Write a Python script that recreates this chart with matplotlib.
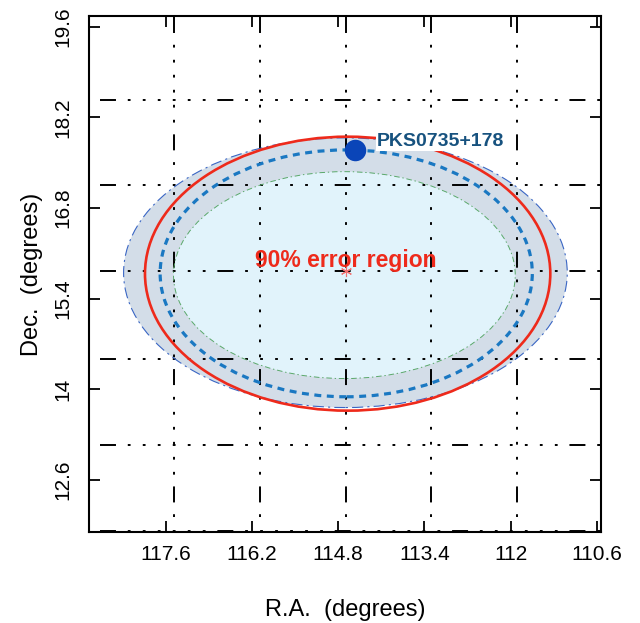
import matplotlib
matplotlib.use("Agg")
import matplotlib.pyplot as plt
from matplotlib.patches import Ellipse
import numpy as np

plt.rcParams['font.family'] = ['Liberation Sans', 'DejaVu Sans']
plt.rcParams['lines.scale_dashes'] = False

# ---- data ----
x_ticks = [117.6, 116.2, 114.8, 113.4, 112.0, 110.6]
x_tick_labels = ["117.6", "116.2", "114.8", "113.4", "112", "110.6"]
y_ticks = [12.6, 14.0, 15.4, 16.8, 18.2, 19.6]
y_tick_labels = ["12.6", "14", "15.4", "16.8", "18.2", "19.6"]
xlim = (118.84, 110.54)
ylim = (11.79, 19.77)

grid_ra = [117.47, 116.07, 114.68, 113.30, 111.90]
grid_dec = [18.47, 17.15, 15.82, 14.47, 13.14, 11.81]

center_ra, center_dec = 114.68, 15.82
# (center RA, center Dec, semi-axis RA, semi-axis Dec)
outer_region = (114.683, 15.80, 3.60, 2.083)
inner_region = (114.70, 15.763, 2.773, 1.598)
blue_contour = (114.67, 15.79, 3.02, 1.907)
red_contour = (114.647, 15.785, 3.289, 2.116)

source_name = "PKS0735+178"
source_ra, source_dec = 114.53, 17.70

# ---- figure ----
fig = plt.figure(figsize=(6.40, 6.23), dpi=100)
ax = fig.add_axes([0.1395, 0.1456, 0.7991, 0.8292])
ax.set_xlim(*xlim)
ax.set_ylim(*ylim)

def ell(params, **kw):
    cx, cy, a, b = params
    return Ellipse((cx, cy), 2 * a, 2 * b, **kw)

# filled regions
ax.add_patch(ell(outer_region, facecolor='#d3dde8', edgecolor='none', zorder=1))
ax.add_patch(ell(outer_region, facecolor='none', edgecolor='#3a66c4', lw=0.8,
                 linestyle=(0, (8, 3, 1.5, 3)), zorder=4))
ax.add_patch(ell(inner_region, facecolor='#e1f3fb', edgecolor='none', zorder=2))
ax.add_patch(ell(inner_region, facecolor='none', edgecolor='#5aa86a', lw=0.7,
                 linestyle=(0, (4, 2, 1, 2)), zorder=4))

# grid lines (coordinate grid)
grid_ls = (0, (11.5, 8.5, 2.0, 8.8, 2.0, 8.8, 2.0, 8.8, 2.0, 8.8, 2.0, 8.8, 2.0, 8.5))
for r in grid_ra:
    ax.plot([r, r], [19.75, 11.95], color='black', lw=1.4, linestyle=grid_ls,
            solid_capstyle='butt', dash_capstyle='butt', zorder=3)
for d in grid_dec:
    ax.plot([118.66, 110.55], [d, d], color='black', lw=1.4, linestyle=grid_ls,
            solid_capstyle='butt', dash_capstyle='butt', zorder=3)

# contours
ax.add_patch(ell(blue_contour, facecolor='none', edgecolor='#1a78c2', lw=2.3,
                 linestyle=(0, (5, 4)), zorder=5))
ax.add_patch(ell(red_contour, facecolor='none', edgecolor='#ee2a1b', lw=1.9, zorder=6))

# center marker
ax.plot([center_ra], [center_dec], marker=(6, 2, 0), color='#f07070', ms=8,
        mew=0.8, zorder=7)

# source
ax.plot([source_ra], [source_dec], 'o', color='#0a45b8', ms=15.5, mec='none', zorder=8)
ax.text(114.17, 17.752, source_name, color='#17527f', fontsize=14,
        fontweight='bold', ha='left', va='baseline', zorder=9,
        bbox=dict(facecolor='white', edgecolor='none', pad=0.5))

ax.text(114.68, 15.894, "90% error region", color='#ee2a1b', fontsize=16.5,
        fontweight='bold', ha='center', va='baseline', zorder=9)

# ticks
ax.set_xticks(x_ticks)
ax.set_xticklabels(x_tick_labels)
ax.set_yticks(y_ticks)
ax.set_yticklabels(y_tick_labels, rotation=90, va='center')
ax.tick_params(direction='in', length=8, width=1.3, top=True, right=True,
               labelsize=15, pad=9)
ax.tick_params(axis='y', pad=12)
for s in ax.spines.values():
    s.set_linewidth(1.5)

ax.set_xlabel("R.A.  (degrees)", fontsize=17, labelpad=25)
ax.set_ylabel("Dec.  (degrees)", fontsize=17, labelpad=8)

fig.savefig("out.png", dpi=100)
